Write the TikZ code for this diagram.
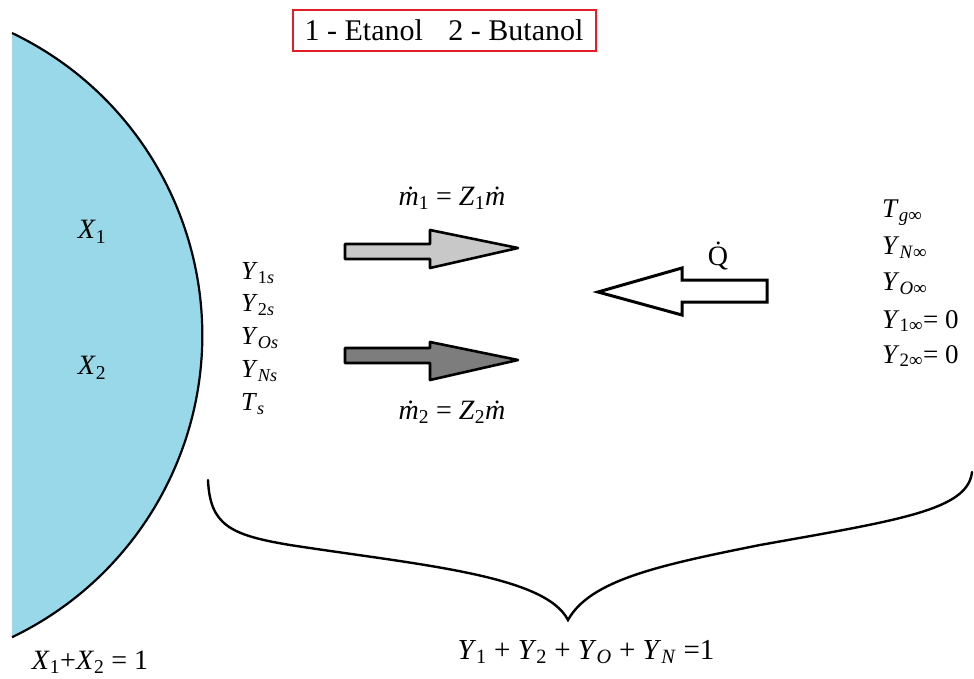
\documentclass[tikz,border=0pt]{standalone}
\usepackage{fontspec}
\setmainfont{Liberation Serif}
\newfontfamily\tms{Liberation Serif}
\definecolor{drop}{RGB}{152,216,232}
\definecolor{lgray}{RGB}{200,200,200}
\definecolor{dgray}{RGB}{125,125,125}
\definecolor{boxred}{RGB}{228,30,40}
\newcommand{\iv}[1]{\textit{#1}}
\newcommand{\sbs}[1]{\textsubscript{#1}}
\tikzset{
  lbl/.style={inner sep=0pt, font=\tms\fontsize{26}{30}\selectfont},
  lblw/.style={lbl, anchor=west},
  farlbl/.style={inner sep=0pt, anchor=west, font=\tms\fontsize{27}{31}\selectfont},
  biglbl/.style={inner sep=0pt, font=\tms\fontsize{28}{32}\selectfont},
  flowarrow/.style={draw=black, line width=2.6pt, line join=round},
}
\begin{document}
\begin{tikzpicture}[x=1pt,y=-1pt]
\useasboundingbox (0,0) rectangle (974,678);
% droplet
\fill[drop] (12,33) arc[start angle=-64.4, end angle=64.4, radius=335] -- cycle;
\draw[line width=2.2pt] (12,33) arc[start angle=-64.4, end angle=64.4, radius=335];
\node[biglbl] (x1) at (92,232) {\iv{X}\sbs{1}};
\node[biglbl] (x2) at (92,368) {\iv{X}\sbs{2}};
\node[biglbl] (xsum) at (90,662) {\iv{X}\sbs{1}+\iv{X}\sbs{2} = 1};
% title box
\node[draw=boxred, line width=2pt, minimum width=303pt, minimum height=41pt,
      inner sep=0pt, font=\tms\fontsize{30}{34}\selectfont] (title) at (444,30) {1 - Etanol\hspace{0.6em} 2 - Butanol};
% surface labels
\node[lblw] (y1s) at (241,273) {\iv{Y}\sbs{1\iv{s}}};
\node[lblw] (y2s) at (241,305) {\iv{Y}\sbs{2\iv{s}}};
\node[lblw] (yos) at (241,338) {\iv{Y}\sbs{\iv{Os}}};
\node[lblw] (yns) at (241,371) {\iv{Y}\sbs{\iv{Ns}}};
\node[lblw] (ts) at (241,404) {\iv{T}\sbs{\iv{s}}};
% mass flux arrows
\draw[flowarrow, fill=lgray] (345,244) -- (430,244) -- (430,230) -- (518,248) -- (430,268) -- (430,259) -- (345,259) -- cycle;
\draw[flowarrow, fill=dgray] (345,348) -- (430,348) -- (430,342) -- (518,360) -- (430,380) -- (430,363) -- (345,363) -- cycle;
\node[biglbl] (m1) at (452,198) {\iv{ṁ}\sbs{1} = \iv{Z}\sbs{1}\iv{ṁ}};
\node[biglbl] (m2) at (452,412) {\iv{ṁ}\sbs{2} = \iv{Z}\sbs{2}\iv{ṁ}};
% heat arrow
\draw[draw=black, line width=3pt, line join=miter, fill=white] (767,280) -- (682,280) -- (682,268) -- (598,292) -- (682,315) -- (682,302) -- (767,302) -- cycle;
\node[biglbl] (q) at (718,256) {\.{Q}};
% far field labels
\node[farlbl] (tg) at (882,213) {\iv{T}\sbs{\iv{g}∞}};
\node[farlbl] (yn) at (882,248) {\iv{Y}\sbs{\iv{N}∞}};
\node[farlbl] (yo) at (882,284) {\iv{Y}\sbs{\iv{O}∞}};
\node[farlbl] (y1) at (882,321) {\iv{Y}\sbs{1∞}= 0};
\node[farlbl] (y2) at (882,356) {\iv{Y}\sbs{2∞}= 0};
% brace
\coordinate (bl) at (208,480);
\coordinate (bc) at (568,620);
\coordinate (br) at (972,472);
\draw[line width=2.4pt, line cap=round] (bl) .. controls (210,525) and (230,535) .. (290,545)
  .. controls (420,565) and (545,575) .. (bc)
  .. controls (590,580) and (660,565) .. (760,545)
  .. controls (900,520) and (968,510) .. (br);
\node[inner sep=0pt, font=\tms\fontsize{29}{33}\selectfont] (ysum) at (586,652) {\iv{Y}\sbs{1} + \iv{Y}\sbs{2} + \iv{Y}\sbs{\iv{O}} + \iv{Y}\sbs{\iv{N}} =1};
\end{tikzpicture}
\end{document}
